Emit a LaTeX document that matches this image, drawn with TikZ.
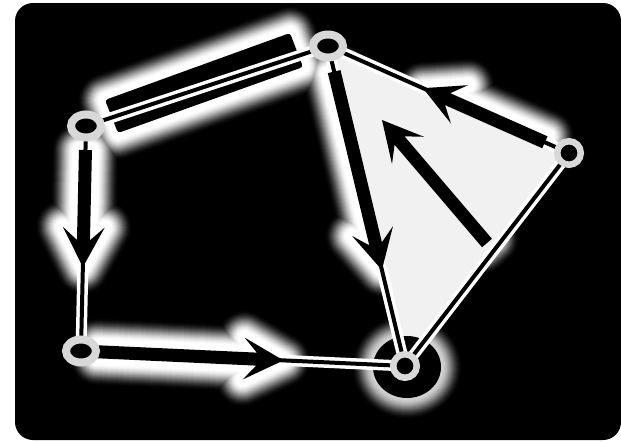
\documentclass[tikz,border=0pt]{standalone}
\usetikzlibrary{calc,shapes.geometric}
\definecolor{ringgray}{RGB}{216,216,216}
\definecolor{trigray}{RGB}{241,241,241}
\tikzset{
  edge/.style={draw=white, line width=3.5pt, double=black, double distance=4pt},
  glowline/.style={line join=round},
  bigring/.style={ellipse, draw=ringgray, line width=8pt, fill=black, minimum width=30pt, minimum height=23pt, inner sep=0pt},
  smallring/.style={circle, draw=ringgray, line width=6.5pt, fill=black, minimum size=23.5pt, inner sep=0pt},
  blackshape/.style={fill=black},
}
\newcommand\arrowshape[2]{(#2) -- ($(#2)!40pt!(#1)!21pt!90:(#1)$) -- ($(#2)!27pt!(#1)!6.5pt!90:(#1)$) -- ($(#1)!6.5pt!-90:(#2)$) -- ($(#1)!6.5pt!90:(#2)$) -- ($(#2)!27pt!(#1)!6.5pt!-90:(#1)$) -- ($(#2)!40pt!(#1)!21pt!-90:(#1)$) -- cycle}
\begin{document}
\begin{tikzpicture}[x=1pt,y=-1pt]
\useasboundingbox (0,0) rectangle (621,442);
\fill[black, rounded corners=18pt] (15,3) rectangle (621,440);
% node centres
\coordinate (A) at (86,126);
\coordinate (B) at (328,46);
\coordinate (C) at (569,153);
\coordinate (D) at (81,351);
\coordinate (E) at (405,366);
% arrow ends
\coordinate (t1) at ($(A)!0.107!(D)$); \coordinate (h1) at ($(A)!0.627!(D)$);
\coordinate (t2) at ($(D)!0.05!(E)$);  \coordinate (h2) at ($(D)!0.625!(E)$);
\coordinate (t3) at ($(B)!0.08!(E)$);  \coordinate (h3) at ($(B)!0.70!(E)$);
\coordinate (t4) at ($(C)!0.10!(B)$);  \coordinate (h4) at ($(C)!0.606!(B)$);
\coordinate (t5) at (487,243);         \coordinate (h5) at (382,120);
% bar corners
\coordinate (b1) at (105,100); \coordinate (b2) at (290,33);
\coordinate (b3) at (303,67);  \coordinate (b4) at (118,133);
\coordinate (Ed) at (407,367);
% glows (widest and darkest first)
\foreach \w in {56,54,...,2}{
  \pgfmathsetmacro\gT{max(0,min(1,(\w/2-6)/22))}
  \pgfmathsetmacro\gP{100*(1-(3*\gT*\gT-2*\gT*\gT*\gT))}
  \pgfmathsetmacro\eT{max(0,min(1,(\w/2-1)/21))}
  \pgfmathsetmacro\eP{82*(1-(3*\eT*\eT-2*\eT*\eT*\eT))}
  \draw[glowline, draw=white!\eP!black, line width=\w pt] (Ed) ellipse [x radius=34pt, y radius=31pt];
  \draw[glowline, draw=white!\gP!black, line width=\w pt] \arrowshape{t1}{h1};
  \draw[glowline, draw=white!\gP!black, line width=\w pt] \arrowshape{t2}{h2};
  \draw[glowline, draw=white!\gP!black, line width=\w pt] \arrowshape{t3}{h3};
  \draw[glowline, draw=white!\gP!black, line width=\w pt] \arrowshape{t4}{h4};
  \draw[glowline, draw=white!\gP!black, line width=\w pt] \arrowshape{t5}{h5};
  \draw[glowline, draw=white!\gP!black, line width=\w pt] (b1) -- (b2) -- (b3) -- (b4) -- cycle;
}
% triangle
\fill[trigray] (B) -- (C) -- (E) -- cycle;
% black shapes under the edges
\fill[blackshape] (Ed) ellipse [x radius=34pt, y radius=31pt];
\fill[blackshape, rounded corners=3pt] (b1) -- (b2) -- (b3) -- (b4) -- cycle;
% edges
\draw[edge] (A) -- (B);
\draw[edge] (A) -- (D);
\draw[edge] (D) -- (E);
\draw[edge] (B) -- (E);
\draw[edge] (B) -- (C);
\draw[edge] (C) -- (E);
% arrows
\fill[blackshape] \arrowshape{t1}{h1};
\fill[blackshape] \arrowshape{t2}{h2};
\fill[blackshape] \arrowshape{t3}{h3};
\fill[blackshape] \arrowshape{t4}{h4};
\fill[blackshape] \arrowshape{t5}{h5};
% rings
\node[bigring] (nA) at (A) {};
\node[bigring] (nB) at (B) {};
\node[bigring] (nD) at (D) {};
\node[smallring] (nC) at (C) {};
\node[smallring] (nE) at (E) {};
\end{tikzpicture}
\end{document}
